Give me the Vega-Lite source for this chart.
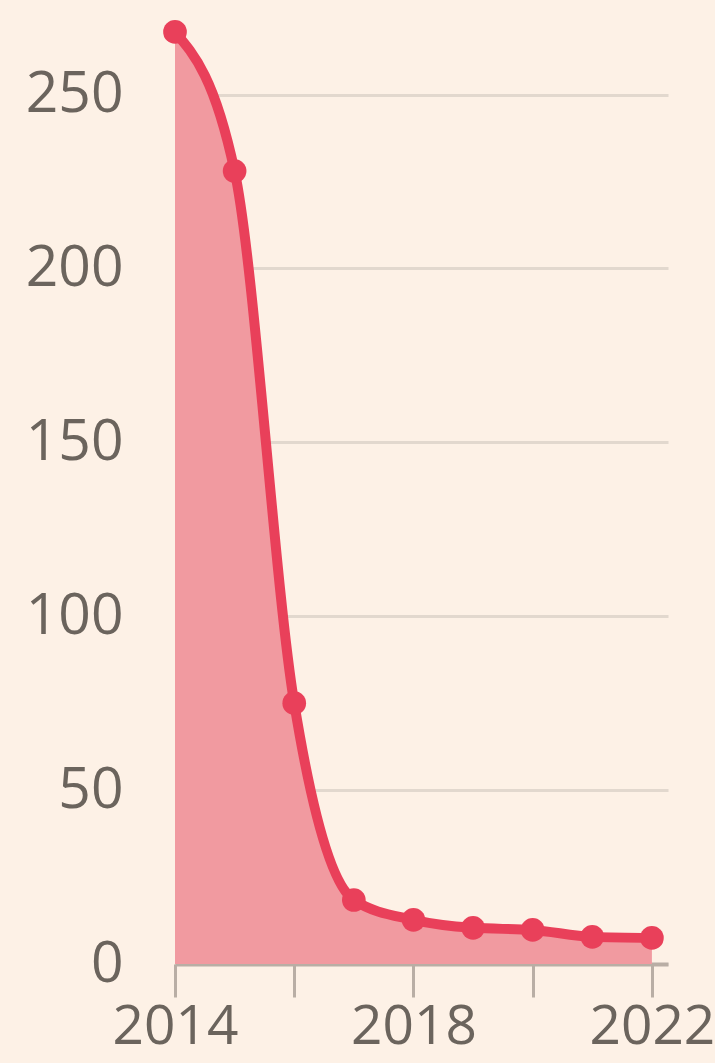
{
  "$schema": "https://vega.github.io/schema/vega-lite/v6.json",
  "width": 493,
  "height": 939,
  "autosize": {"type": "none"},
  "padding": {"left": 175, "top": 25, "right": 47, "bottom": 99},
  "background": "#fdf1e6",
  "config": {
    "view": {"stroke": null},
    "axis": {"labelFont": "Open Sans", "labelFontSize": 57, "labelColor": "#6b645d"}
  },
  "data": {"values": [
    {"year": 2014, "value": 268},
    {"year": 2015, "value": 228},
    {"year": 2016, "value": 75},
    {"year": 2017, "value": 18.4},
    {"year": 2018, "value": 12.7},
    {"year": 2019, "value": 10.4},
    {"year": 2020, "value": 9.8},
    {"year": 2021, "value": 7.8},
    {"year": 2022, "value": 7.5}
  ]},
  "encoding": {
    "x": {"field": "year", "type": "quantitative",
      "scale": {"domain": [2014, 2022.27], "nice": false, "zero": false},
      "axis": {"title": null, "values": [2014, 2016, 2018, 2020, 2022],
        "labelExpr": "datum.value % 4 == 2 ? datum.label : ''",
        "format": "d", "grid": false, "domainColor": "#b9aea5", "domainWidth": 4,
        "tickColor": "#b9aea5", "tickWidth": 3, "tickSize": 33, "labelPadding": 3,
        "labelFontSize": 55, "labelDx": -5,
        "labelFlush": false, "labelBound": false, "labelOverlap": false}},
    "y": {"field": "value", "type": "quantitative",
      "scale": {"domain": [0, 270], "nice": false},
      "axis": {"title": null, "values": [0, 50, 100, 150, 200, 250],
        "domain": false, "ticks": false, "labelPadding": 52,
        "gridColor": "#e2d8ce", "gridWidth": 3, "labelBaseline": "middle"}}
  },
  "layer": [
    {"mark": {"type": "area", "interpolate": "monotone", "color": "#f19aa0"}},
    {"mark": {"type": "line", "interpolate": "monotone", "color": "#e9405a", "strokeWidth": 10}},
    {"mark": {"type": "point", "filled": true, "color": "#e9405a", "opacity": 1, "size": 560}}
  ]
}
